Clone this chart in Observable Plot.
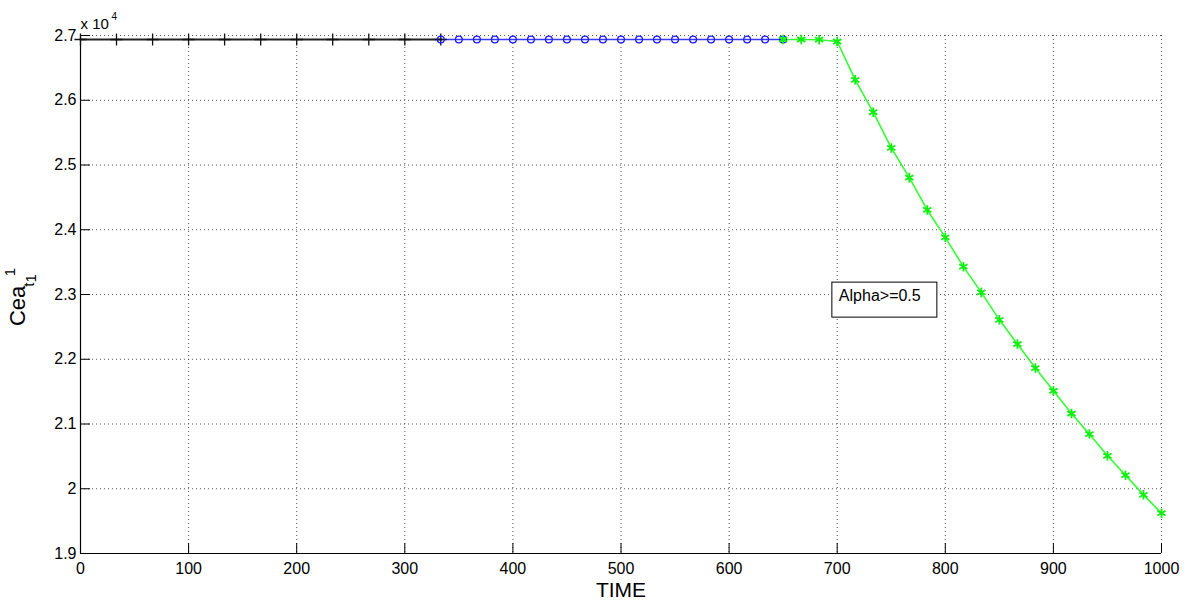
<!DOCTYPE html>
<html>
<head>
<meta charset="utf-8">
<script src="https://cdn.jsdelivr.net/npm/d3@7"></script>
<script src="https://cdn.jsdelivr.net/npm/@observablehq/plot@0.6"></script>
<style>
  html, body { margin: 0; padding: 0; background: #fff; }
  #chart { width: 1190px; height: 604px; }
</style>
</head>
<body>
<div id="chart"></div>
<script>
// ---- data ----
const xTicks = [0, 100, 200, 300, 400, 500, 600, 700, 800, 900, 1000];
const yTicks = [19000, 20000, 21000, 22000, 23000, 24000, 25000, 26000, 27000];

const blackTime = [0, 33.3, 66.7, 100, 133.3, 166.7, 200, 233.3, 266.7, 300, 333.3];
const blackVal  = [26938, 26938, 26938, 26938, 26938, 26938, 26938, 26938, 26938, 26938, 26938];

const blueTime = [333.3, 350, 366.7, 383.3, 400, 416.7, 433.3, 450, 466.7, 483.3,
                  500, 516.7, 533.3, 550, 566.7, 583.3, 600, 616.7, 633.3, 650];
const blueVal  = [26938, 26938, 26938, 26938, 26938, 26938, 26938, 26938, 26938, 26938,
                  26938, 26938, 26938, 26938, 26938, 26938, 26938, 26938, 26938, 26938];

const greenTime = [650, 666.7, 683.3, 700, 716.7, 733.3, 750, 766.7, 783.3, 800, 816.7,
                   833.3, 850, 866.7, 883.3, 900, 916.7, 933.3, 950, 966.7, 983.3, 1000];
const greenVal  = [26938, 26938, 26935, 26907, 26315, 25815, 25264, 24805, 24306, 23883, 23430,
                   23033, 22609, 22235, 21864, 21513, 21162, 20844, 20509, 20210, 19906, 19623];

const annotation = {x: 702, y: 22890, label: "Alpha>=0.5"};
const xLabel = "TIME";
const exponentBase = "x 10";
const exponentPower = "4";

// ---- build tables ----
const toRows = (xs, ys) => xs.map((x, i) => ({x, y: ys[i]}));
const black = toRows(blackTime, blackVal);
const blue = toRows(blueTime, blueVal);
const green = toRows(greenTime, greenVal);

const FONT = "Arial, 'Liberation Sans', Helvetica, sans-serif";
const gridStyle = {stroke: "#555", strokeOpacity: 1, strokeWidth: 1, strokeDasharray: "1,3"};

const plot = Plot.plot({
  width: 1190,
  height: 604,
  marginLeft: 80,
  marginRight: 29,
  marginTop: 35,
  marginBottom: 51,
  style: {fontFamily: FONT, fontSize: "16px", background: "#fff", color: "#000", overflow: "visible"},
  x: {domain: [0, 1000]},
  y: {domain: [19000, 27000]},
  marks: [
    Plot.gridX(xTicks, gridStyle),
    Plot.gridY(yTicks, gridStyle),
    Plot.ruleX([0], {stroke: "#000", strokeWidth: 1.2}),
    Plot.ruleY([19000], {stroke: "#000", strokeWidth: 1.2}),
    Plot.tickX(xTicks, {x: d => d, insetTop: 508, stroke: "#000"}),
    Plot.tickY(yTicks, {y: d => d, insetRight: 1071, stroke: "#000"}),
    Plot.axisX(xTicks, {label: null, tickSize: 0, tickPadding: 9, fontSize: 16, tickFormat: d => String(d)}),
    Plot.axisY(yTicks, {label: null, tickSize: 0, tickPadding: 4, fontSize: 16, tickFormat: d => String(+(d / 1e4).toFixed(1))}),
    Plot.line(black, {x: "x", y: "y", stroke: "#222", strokeWidth: 2.2}),
    Plot.line(blue, {x: "x", y: "y", stroke: "#3a3aff", strokeWidth: 1.6}),
    Plot.line(green, {x: "x", y: "y", stroke: "#33ff33", strokeWidth: 1.6}),
    Plot.dot(black, {x: "x", y: "y", symbol: "plus", r: 4, stroke: "#111", strokeWidth: 1.3}),
    Plot.dot(blue, {x: "x", y: "y", symbol: "circle", r: 3.4, stroke: "#1a1aff", fill: "none", strokeWidth: 1.3}),
    Plot.dot(green, {x: "x", y: "y", symbol: "asterisk", r: 4.5, stroke: "#11ee11", strokeWidth: 1.8}),
    Plot.text([xLabel], {frameAnchor: "bottom", dy: 37, fontSize: 21, fill: "#000", lineAnchor: "middle"}),
    Plot.text([exponentBase], {frameAnchor: "top-left", textAnchor: "start", lineAnchor: "bottom", dy: -7, fontSize: 15, fill: "#000"}),
    Plot.text([exponentPower], {frameAnchor: "top-left", textAnchor: "start", lineAnchor: "bottom", dx: 31, dy: -16, fontSize: 10, fill: "#000"})
  ]
});

document.getElementById("chart").appendChild(plot);

// ---- y-axis label with sub/superscripts ----
const svg = d3.select(plot);
const ylab = svg.append("text")
  .attr("transform", "translate(25,297) rotate(-90)")
  .attr("text-anchor", "middle")
  .attr("font-family", FONT)
  .attr("font-size", 22)
  .attr("fill", "#000");
ylab.append("tspan").text("Cea");
ylab.append("tspan").attr("dy", 9).attr("dx", -1).attr("font-size", 15).text("t");
ylab.append("tspan").attr("dy", 2).attr("font-size", 15).text("1");
ylab.append("tspan").attr("dy", -21).attr("dx", -1).attr("font-size", 15).text("1");

// ---- annotation box (positioned through the plot's scales) ----
const sx = plot.scale("x"), sy = plot.scale("y");
const ax = sx.apply(annotation.x), ay = sy.apply(annotation.y);
const g = svg.append("g");
g.append("rect")
  .attr("x", ax - 7).attr("y", ay - 19)
  .attr("width", 105).attr("height", 35)
  .attr("fill", "#fff").attr("stroke", "#000").attr("stroke-width", 1);
g.append("text")
  .attr("x", ax).attr("y", ay)
  .attr("text-anchor", "start")
  .attr("font-family", FONT).attr("font-size", 16)
  .attr("fill", "#000")
  .text(annotation.label);
</script>
</body>
</html>
